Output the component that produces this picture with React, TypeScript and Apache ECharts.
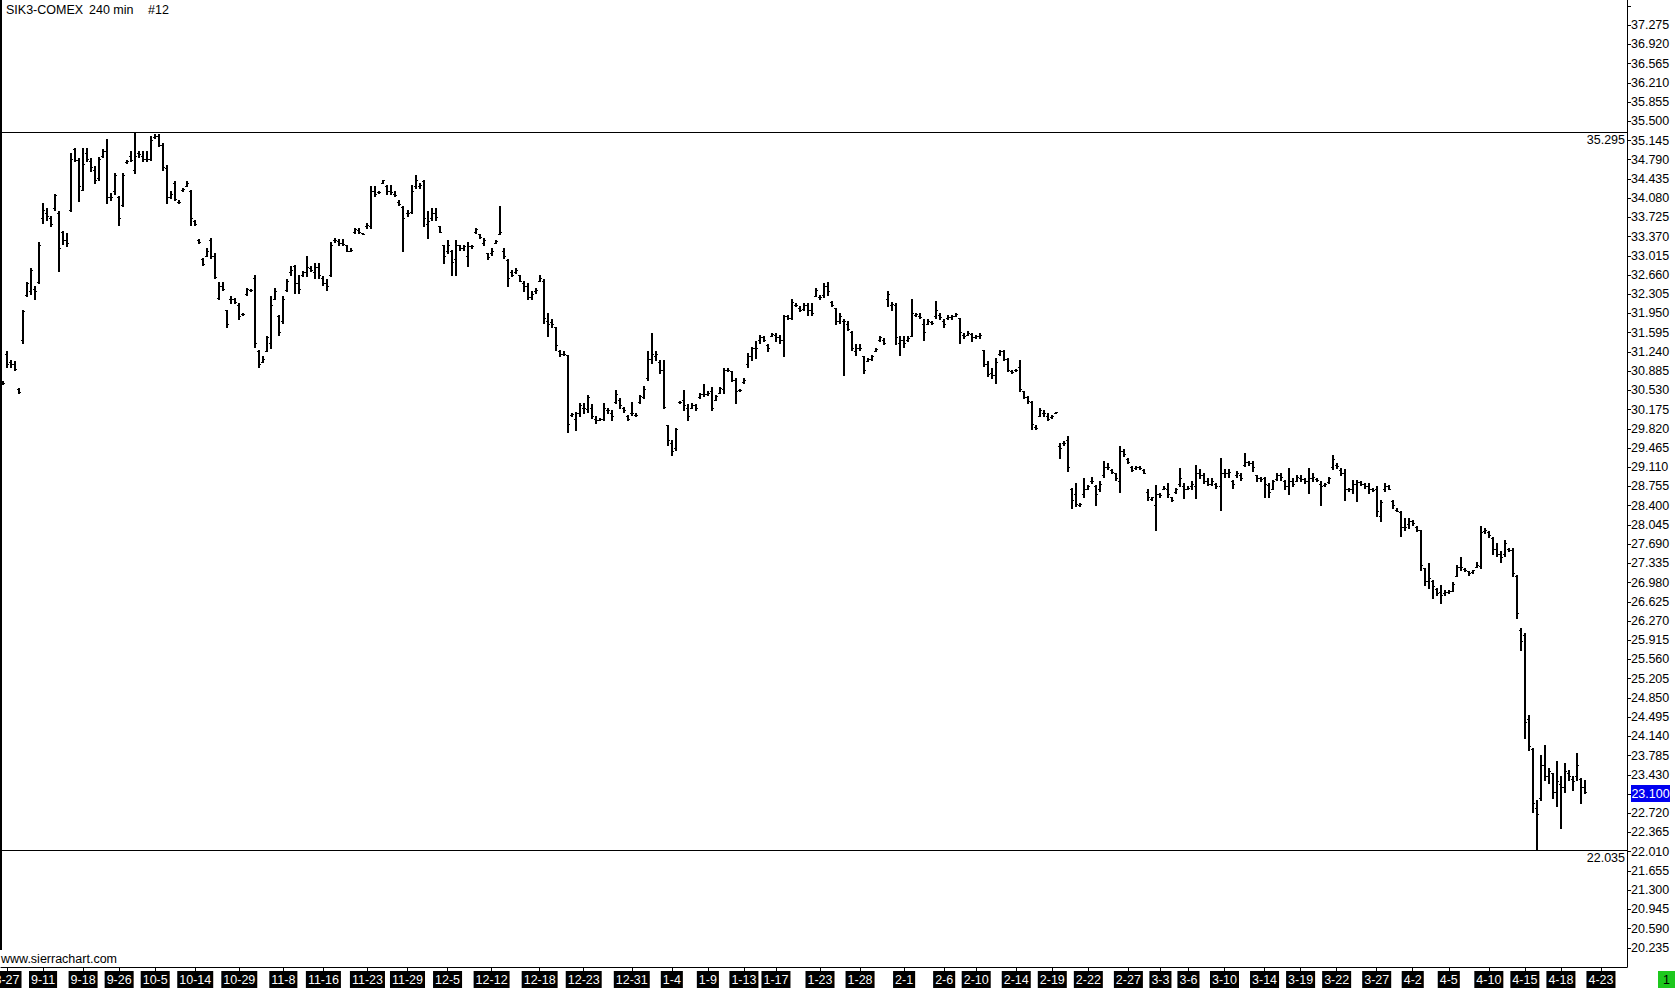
import React, { useEffect, useRef } from 'react';
import * as echarts from 'echarts';

// ---- OHLC bars (240 min) ----
const opens = [
30.68,31.20,31.05,31.00,30.55,31.45,32.28,32.35,32.40,32.52,
33.70,33.80,33.70,33.88,33.80,33.44,33.30,33.85,34.98,34.78,
34.23,34.90,34.75,34.60,34.45,34.85,34.95,34.10,34.20,34.10,
33.95,34.74,34.85,34.60,34.90,34.85,34.80,34.80,35.20,35.22,
35.05,34.62,34.10,34.35,34.00,34.22,34.30,34.20,33.65,33.30,
32.95,33.00,33.30,33.00,32.22,32.45,32.00,32.20,32.20,32.10,
31.94,32.30,32.38,32.60,31.25,31.05,31.25,31.40,32.20,31.90,
31.80,32.37,32.70,32.82,32.50,32.65,32.70,32.78,32.70,32.80,
32.60,32.50,32.65,33.30,33.28,33.25,33.20,33.10,33.45,33.48,
33.42,33.55,33.55,34.20,34.18,34.36,34.30,34.20,34.15,34.00,
33.90,33.80,33.82,34.30,34.30,34.38,33.60,33.70,33.80,33.55,
33.20,33.10,33.10,32.95,33.20,33.15,33.00,33.18,33.45,33.40,
33.24,33.05,33.05,33.25,33.40,33.10,32.92,32.70,32.70,32.65,
32.50,32.45,32.25,32.35,32.55,32.55,31.80,31.78,31.70,31.25,
31.20,31.18,30.06,30.00,30.10,30.20,30.18,30.20,30.00,29.98,
30.00,30.15,30.10,30.30,30.35,30.20,30.05,30.10,30.07,30.30,
30.40,30.75,31.10,31.15,31.05,30.90,29.88,29.55,29.45,30.30,
30.35,30.20,30.20,30.25,30.40,30.45,30.45,30.50,30.35,30.48,
30.55,30.90,30.87,30.72,30.52,30.68,31.00,31.15,31.30,31.45,
31.50,31.35,31.53,31.55,31.50,31.45,31.90,31.85,32.10,32.05,
32.02,32.10,32.00,32.27,32.25,32.28,32.45,32.15,32.04,31.80,
31.80,31.75,31.60,31.25,31.30,31.15,31.07,31.10,31.25,31.45,
31.45,32.20,32.10,32.10,31.40,31.45,31.45,31.52,31.92,31.90,
31.75,31.75,31.78,31.90,31.92,31.80,31.85,31.88,31.90,31.85,
31.55,31.55,31.57,31.50,31.52,31.27,31.00,30.85,30.80,31.20,
31.25,31.10,30.88,30.90,30.95,30.50,30.40,30.30,29.85,30.05,
30.10,30.05,30.02,30.10,29.50,29.55,29.60,28.70,28.60,28.40,
28.60,28.70,28.85,28.75,28.70,28.95,29.10,29.05,29.00,28.85,
29.40,29.25,29.10,29.08,29.10,29.05,28.65,28.52,28.40,28.60,
28.70,28.70,28.55,28.65,28.80,28.75,28.70,28.75,28.75,29.00,
28.95,28.85,28.80,28.80,28.75,29.00,29.00,28.85,28.95,28.95,
29.15,29.20,29.18,28.95,28.90,28.90,28.78,28.70,28.88,28.95,
28.85,28.75,28.85,28.85,28.90,28.88,28.85,28.90,28.88,28.80,
28.78,28.82,29.10,29.15,29.05,29.00,28.70,28.70,28.80,28.82,
28.80,28.75,28.70,28.70,28.20,28.70,28.75,28.48,28.32,28.28,
28.00,28.05,28.10,28.00,27.95,27.24,27.00,27.00,26.85,26.80,
26.78,26.80,26.82,27.10,27.25,27.22,27.18,27.16,27.25,27.28,
27.92,27.90,27.80,27.60,27.50,27.50,27.60,27.58,27.10,26.10,
26.00,24.45,23.90,22.80,23.00,23.60,23.40,23.45,23.10,23.25,
23.20,23.45,23.35,23.40,23.35,23.20
];
const highs = [
30.70,31.24,31.09,31.06,30.56,32.00,32.52,32.78,32.44,33.27,
33.98,33.89,33.74,34.14,33.83,33.46,33.43,34.91,35.00,34.81,
35.00,35.00,34.81,34.66,34.84,34.97,35.17,34.17,34.54,34.11,
34.54,34.78,34.94,35.295,34.94,34.94,34.94,35.21,35.25,35.25,
35.09,34.69,34.20,34.38,34.04,34.26,34.38,34.23,33.67,33.31,
32.97,33.15,33.34,33.06,32.53,32.53,32.01,32.26,32.23,32.13,
31.95,32.41,32.40,32.66,31.27,31.15,31.52,32.26,32.41,31.92,
32.26,32.57,32.81,32.84,32.66,32.72,33.00,32.81,32.87,32.87,
32.63,32.57,33.27,33.34,33.31,33.31,33.21,33.15,33.52,33.52,
33.43,33.61,34.29,34.29,34.20,34.41,34.32,34.32,34.20,34.04,
33.92,33.86,34.32,34.50,34.35,34.41,33.83,33.89,33.89,33.55,
33.21,33.30,33.12,33.30,33.21,33.21,33.27,33.20,33.52,33.40,
33.34,33.06,33.15,33.30,33.92,33.15,32.94,32.75,32.78,32.66,
32.54,32.50,32.35,32.41,32.66,32.57,31.95,31.83,31.70,31.27,
31.24,31.18,30.10,30.13,30.29,30.29,30.44,30.26,30.04,30.01,
30.29,30.19,30.16,30.53,30.38,30.22,30.07,30.30,30.10,30.44,
30.60,31.24,31.58,31.24,31.09,31.09,29.89,29.61,29.83,30.32,
30.53,30.26,30.29,30.26,30.47,30.63,30.50,30.59,30.44,30.59,
30.93,30.93,30.87,30.75,30.55,30.75,31.21,31.33,31.43,31.55,
31.52,31.37,31.58,31.58,31.55,31.92,31.92,32.20,32.13,32.07,
32.13,32.13,32.13,32.41,32.29,32.50,32.52,32.17,32.04,31.95,
31.83,31.80,31.61,31.37,31.37,31.16,31.12,31.18,31.30,31.52,
31.49,32.35,32.16,32.13,31.52,31.52,31.52,32.20,31.95,31.95,
31.83,31.83,31.80,32.17,31.95,31.83,31.92,31.92,31.95,31.86,
31.58,31.61,31.58,31.55,31.58,31.27,31.06,30.93,31.12,31.27,
31.27,31.12,30.90,30.92,31.09,30.50,30.41,30.32,29.89,30.20,
30.16,30.10,30.07,30.13,29.55,29.58,29.67,28.72,28.81,28.44,
28.90,28.78,28.93,28.78,28.84,29.21,29.18,29.06,29.00,29.49,
29.43,29.27,29.12,29.12,29.12,29.06,28.69,28.56,28.78,28.63,
28.75,28.81,28.56,28.72,29.09,28.81,28.75,28.84,29.15,29.06,
28.99,28.90,28.90,28.81,29.27,29.06,29.06,28.87,29.03,28.99,
29.36,29.21,29.21,28.96,28.93,28.93,28.81,28.87,28.99,28.99,
28.87,29.09,28.90,28.96,28.96,28.90,29.09,28.99,28.90,28.84,
28.81,28.93,29.33,29.18,29.09,29.06,28.72,28.87,28.87,28.84,
28.81,28.81,28.72,28.75,28.50,28.81,28.78,28.50,28.35,28.29,
28.16,28.16,28.13,28.01,27.95,27.24,27.33,27.02,26.87,26.93,
26.84,26.84,26.99,27.30,27.45,27.24,27.18,27.21,27.36,28.01,
27.98,27.92,27.82,27.70,27.55,27.76,27.61,27.61,27.12,26.13,
26.04,24.53,23.91,22.96,23.79,23.98,23.54,23.45,23.67,23.39,
23.64,23.51,23.39,23.82,23.36,23.33
];
const lows = [
30.64,30.96,30.96,30.90,30.47,31.40,32.26,32.30,32.20,32.50,
33.61,33.67,33.55,33.86,32.72,33.22,33.18,33.83,34.75,34.01,
34.23,34.75,34.57,34.35,34.40,34.84,33.98,34.04,34.14,33.58,
33.92,34.72,34.75,34.54,34.84,34.75,34.75,34.78,35.18,35.03,
34.60,33.98,34.08,34.04,33.98,34.20,34.29,33.58,33.58,33.24,
32.84,33.00,32.97,32.60,32.20,32.38,31.70,32.13,32.13,31.83,
31.92,32.29,32.35,31.33,30.96,31.05,31.24,31.30,32.20,31.55,
31.77,32.35,32.66,32.32,32.32,32.63,32.63,32.72,32.60,32.60,
32.47,32.38,32.63,33.27,33.21,33.21,33.09,33.09,33.43,33.43,
33.40,33.52,33.52,34.11,34.17,34.35,34.14,34.14,34.11,33.95,
33.09,33.74,33.80,34.26,34.26,33.55,33.34,33.67,33.67,33.44,
32.87,33.06,32.66,32.66,33.12,33.12,32.81,33.15,33.43,33.34,
33.21,32.94,33.03,33.24,33.40,32.97,32.44,32.63,32.69,32.54,
32.35,32.20,32.20,32.32,32.54,31.77,31.52,31.70,31.27,31.15,
31.18,29.76,30.04,29.79,30.04,30.10,30.13,30.01,29.92,29.98,
29.98,30.10,29.98,30.29,30.19,30.13,29.98,30.07,30.04,30.29,
30.38,30.72,31.03,31.09,30.84,30.20,29.52,29.33,29.42,30.29,
30.16,29.98,30.19,30.16,30.38,30.41,30.44,30.16,30.35,30.47,
30.47,30.87,30.69,30.29,30.50,30.66,30.96,31.09,31.12,31.40,
31.43,31.24,31.52,31.43,31.40,31.15,31.83,31.83,32.07,31.98,
32.01,31.92,31.92,32.26,32.20,32.25,32.29,32.07,31.74,31.77,
30.81,31.64,31.27,31.18,31.27,30.84,31.06,31.09,31.24,31.43,
31.37,32.07,32.01,31.37,31.18,31.33,31.43,31.52,31.89,31.86,
31.46,31.74,31.74,31.86,31.83,31.70,31.83,31.83,31.89,31.40,
31.49,31.55,31.43,31.49,31.49,30.97,30.78,30.75,30.66,31.18,
31.09,30.87,30.84,30.88,30.50,30.38,30.29,29.80,29.80,30.04,
30.04,29.98,30.01,30.10,29.27,29.52,29.03,28.35,28.38,28.38,
28.56,28.69,28.81,28.41,28.66,28.93,29.06,29.00,28.87,28.65,
29.30,29.18,29.03,29.06,29.06,29.00,28.50,28.50,27.95,28.56,
28.69,28.56,28.47,28.63,28.75,28.53,28.69,28.69,28.53,28.90,
28.81,28.78,28.78,28.72,28.32,28.93,28.93,28.72,28.93,28.87,
29.12,29.15,29.03,28.84,28.84,28.56,28.55,28.70,28.87,28.87,
28.69,28.60,28.75,28.84,28.84,28.81,28.63,28.84,28.84,28.41,
28.75,28.81,29.06,29.09,28.96,28.50,28.66,28.63,28.47,28.78,
28.72,28.63,28.66,28.20,28.10,28.66,28.69,28.35,28.29,27.83,
27.95,27.98,28.04,27.92,27.21,26.93,26.87,26.68,26.75,26.59,
26.75,26.78,26.81,27.09,27.21,27.18,27.12,27.15,27.25,27.24,
27.89,27.82,27.49,27.46,27.36,27.46,27.55,27.09,26.32,25.73,
24.10,23.88,22.74,22.035,22.96,23.33,23.27,22.99,22.84,22.44,
23.11,23.33,23.14,23.33,22.90,23.08
];
const closes = [
30.66,31.00,31.00,30.92,30.49,31.98,32.50,32.75,32.35,33.20,
33.85,33.75,33.60,34.12,33.15,33.30,33.25,34.80,34.78,34.30,
34.70,34.80,34.65,34.40,34.80,34.95,34.10,34.10,34.50,33.70,
34.50,34.76,34.78,34.85,34.88,34.80,34.80,35.15,35.22,35.05,
34.65,34.10,34.15,34.05,34.00,34.24,34.36,33.70,33.60,33.27,
32.86,33.10,33.00,32.62,32.45,32.40,31.75,32.20,32.15,31.90,
31.93,32.40,32.38,31.40,31.00,31.10,31.50,32.10,32.35,31.60,
32.20,32.55,32.75,32.50,32.40,32.70,32.80,32.75,32.80,32.65,
32.50,32.45,33.20,33.30,33.25,33.22,33.10,33.12,33.50,33.45,
33.41,33.58,34.20,34.15,34.18,34.40,34.20,34.18,34.12,33.97,
33.70,33.80,34.20,34.40,34.32,33.70,33.65,33.80,33.72,33.45,
33.00,33.20,32.90,33.20,33.15,33.18,33.18,33.18,33.50,33.35,
33.30,32.98,33.10,33.28,33.45,33.00,32.60,32.65,32.75,32.55,
32.45,32.25,32.30,32.38,32.60,31.85,31.75,31.75,31.35,31.20,
31.20,29.90,30.08,30.10,30.25,30.20,30.40,30.05,29.98,30.00,
30.20,30.15,30.05,30.45,30.25,30.15,30.00,30.10,30.06,30.42,
30.55,31.10,31.20,31.20,30.90,30.22,29.60,29.40,29.80,30.30,
30.25,30.05,30.25,30.20,30.45,30.45,30.47,30.20,30.42,30.57,
30.90,30.90,30.72,30.50,30.52,30.72,31.15,31.30,31.30,31.50,
31.45,31.30,31.57,31.50,31.45,31.90,31.85,32.15,32.10,32.00,
32.10,32.00,31.95,32.38,32.25,32.45,32.35,32.10,31.80,31.90,
31.80,31.65,31.30,31.30,31.30,30.90,31.10,31.15,31.28,31.50,
31.40,32.30,32.12,31.50,31.45,31.40,31.48,31.95,31.93,31.88,
31.60,31.80,31.76,32.00,31.88,31.75,31.88,31.90,31.93,31.60,
31.52,31.58,31.50,31.52,31.55,31.00,30.82,30.80,31.05,31.25,
31.10,30.90,30.86,30.90,30.55,30.40,30.32,29.90,29.82,30.15,
30.10,30.00,30.05,30.12,29.45,29.55,29.10,28.50,28.42,28.42,
28.70,28.75,28.85,28.60,28.80,29.10,29.10,29.02,28.90,29.40,
29.35,29.20,29.05,29.10,29.08,29.00,28.55,28.55,28.60,28.58,
28.72,28.60,28.50,28.70,28.90,28.70,28.72,28.80,29.00,28.95,
28.85,28.80,28.85,28.75,29.00,29.00,29.02,28.80,29.00,28.90,
29.20,29.18,29.10,28.90,28.88,28.80,28.65,28.85,28.95,28.92,
28.75,28.85,28.80,28.92,28.88,28.85,28.90,28.92,28.86,28.75,
28.80,28.90,29.25,29.12,29.00,28.70,28.70,28.80,28.83,28.80,
28.75,28.70,28.68,28.30,28.45,28.75,28.70,28.40,28.30,28.00,
28.00,28.10,28.08,27.95,27.30,27.00,27.05,26.90,26.78,26.75,
26.80,26.82,26.95,27.25,27.25,27.20,27.15,27.20,27.30,27.90,
27.95,27.85,27.60,27.50,27.45,27.70,27.58,27.15,26.40,25.90,
24.40,23.95,22.90,22.70,23.60,23.40,23.50,23.10,23.30,23.20,
23.50,23.40,23.30,23.60,23.20,23.10
];

// ---- date labels and the bar slot where each one sits ----
const dateLabels = ['8-27','9-11','9-18','9-26','10-5','10-14','10-29','11-8','11-16','11-23','11-29','12-5','12-12','12-18','12-23','12-31','1-4','1-9','1-13','1-17','1-23','1-28','2-1','2-6','2-10','2-14','2-19','2-22','2-27','3-3','3-6','3-10','3-14','3-19','3-22','3-27','4-2','4-5','4-10','4-15','4-18','4-23'];
const dateSlots = [1,10,20,29,38,48,59,70,80,91,101,111,122,134,145,157,167,176,185,193,204,214,225,235,243,253,262,271,281,289,296,305,315,324,333,343,352,361,371,380,389,399];
const slotCount = 406;

// ---- price scale ----
const priceStep = 0.355;
const priceMin = 19.88;
const priceMax = 37.74;
const topLabel = 37.275;

const FONT = 'Liberation Sans';

export default function App() {
  const ref = useRef<HTMLDivElement>(null);

  useEffect(() => {
    document.body.style.margin = '0';
    const chart = echarts.init(ref.current!, null, { renderer: 'svg' });

    const labelAt: string[] = new Array(slotCount).fill('');
    dateSlots.forEach((s, k) => { labelAt[s] = dateLabels[k]; });
    const cats = labelAt.map((l, i) => l || ('s' + i));
    const data = opens.map((o, i) => [i, o, highs[i], lows[i], closes[i]]);
    const last = closes[closes.length - 1];
    const hidden = Math.round(last / priceStep) * priceStep;

    const renderItem = (params: any, api: any) => {
      const idx = api.value(0);
      const pO = api.coord([idx, api.value(1)]);
      const yH = api.coord([idx, api.value(2)])[1];
      const yL = api.coord([idx, api.value(3)])[1];
      const yC = api.coord([idx, api.value(4)])[1];
      const x = Math.round(pO[0]);
      const yo = Math.floor(pO[1]) + 0.5;
      const yc = Math.floor(yC) + 0.5;
      const t = Math.floor(yH);
      const b = Math.max(Math.floor(yL) + 1, t + 2);
      return {
        type: 'group',
        children: [
          { type: 'line', shape: { x1: x, y1: t, x2: x, y2: b }, style: { stroke: '#000', lineWidth: 2 } },
          { type: 'line', shape: { x1: x - 2, y1: yo, x2: x - 1, y2: yo }, style: { stroke: '#000', lineWidth: 1 } },
          { type: 'line', shape: { x1: x + 1, y1: yc, x2: x + 2, y2: yc }, style: { stroke: '#000', lineWidth: 1 } },
        ],
      };
    };

    chart.setOption({
      animation: false,
      backgroundColor: '#fff',
      grid: { left: 1, right: 49, top: 0, bottom: 22, containLabel: false, outerBoundsMode: 'none' },
      xAxis: {
        type: 'category',
        data: cats,
        boundaryGap: true,
        axisLine: { show: true, lineStyle: { color: '#000', width: 1 } },
        axisTick: {
          show: true, alignWithLabel: true, length: 4,
          lineStyle: { color: '#000' },
          interval: (i: number) => labelAt[i] !== '',
        },
        axisLabel: {
          interval: (i: number) => labelAt[i] !== '',
          formatter: (_v: string, i: number) => labelAt[i],
          color: '#fff', backgroundColor: '#000',
          padding: [1, 2, 1, 2], fontSize: 12.5, fontFamily: FONT,
          lineHeight: 15, margin: 4,
        },
        splitLine: { show: false },
      },
      yAxis: {
        type: 'value',
        position: 'right',
        min: priceMin, max: priceMax, interval: priceStep,
        axisLine: { show: true, lineStyle: { color: '#000', width: 1 } },
        axisTick: { show: true, length: 4, lineStyle: { color: '#000' } },
        axisLabel: {
          showMinLabel: false, showMaxLabel: false, margin: 4,
          color: '#000', fontSize: 12.5, fontFamily: FONT,
          padding: [2, 0, 0, 0],
          formatter: (v: number) => (v > topLabel + 0.01 || Math.abs(v - hidden) < 1e-6) ? '' : v.toFixed(3),
        },
        splitLine: { show: false },
      },
      series: [{
        type: 'custom',
        renderItem,
        data,
        encode: { x: 0, y: [1, 2, 3, 4] },
        clip: true,
      }],
    });

    const yPix = (v: number) => chart.convertToPixel({ yAxisIndex: 0 } as any, v) as unknown as number;
    const hi = Math.max(...highs);
    const lo = Math.min(...lows);
    const hiY = Math.round(yPix(hi)) + 0.5;
    const loY = Math.round(yPix(lo)) + 0.5;
    const lastY = yPix(last);
    const txt = (text: string, x: number, y: number, extra: any = {}) => ({
      type: 'text',
      z: 100,
      style: {
        text, x, y, fill: '#000', fontSize: 12.5, fontFamily: FONT,
        align: 'left', verticalAlign: 'middle', ...extra,
      },
    });

    chart.setOption({
      graphic: [
        { type: 'line', z: 50, shape: { x1: 1, y1: 0, x2: 1, y2: 950 }, style: { stroke: '#000', lineWidth: 2 } },
        { type: 'line', z: 50, shape: { x1: 1, y1: hiY, x2: 1627, y2: hiY }, style: { stroke: '#000', lineWidth: 1 } },
        { type: 'line', z: 50, shape: { x1: 1, y1: loY, x2: 1627, y2: loY }, style: { stroke: '#000', lineWidth: 1 } },
        txt(hi.toFixed(3), 1625, hiY + 7, { align: 'right' }),
        txt(lo.toFixed(3), 1625, loY + 7, { align: 'right' }),
        { type: 'rect', z: 100, shape: { x: 1631, y: Math.round(lastY) - 8, width: 39, height: 17 }, style: { fill: '#0000f0' } },
        txt(last.toFixed(3), 1650.5, Math.round(lastY) + 0.5, { align: 'center', fill: '#fff' }),
        txt('SIK3-COMEX', 6, 10),
        txt('240 min', 89, 10),
        txt('#12', 148, 10),
        txt('www.sierrachart.com', 1, 959),
        { type: 'rect', z: 100, shape: { x: 1658, y: 971, width: 17, height: 17 }, style: { fill: '#1ec81e' } },
        txt('1', 1666.5, 979.5, { align: 'center' }),
      ],
    });

    return () => { chart.dispose(); };
  }, []);

  return <div ref={ref} style={{ position: 'fixed', left: 0, top: 0, width: 1676, height: 989 }} />;
}
